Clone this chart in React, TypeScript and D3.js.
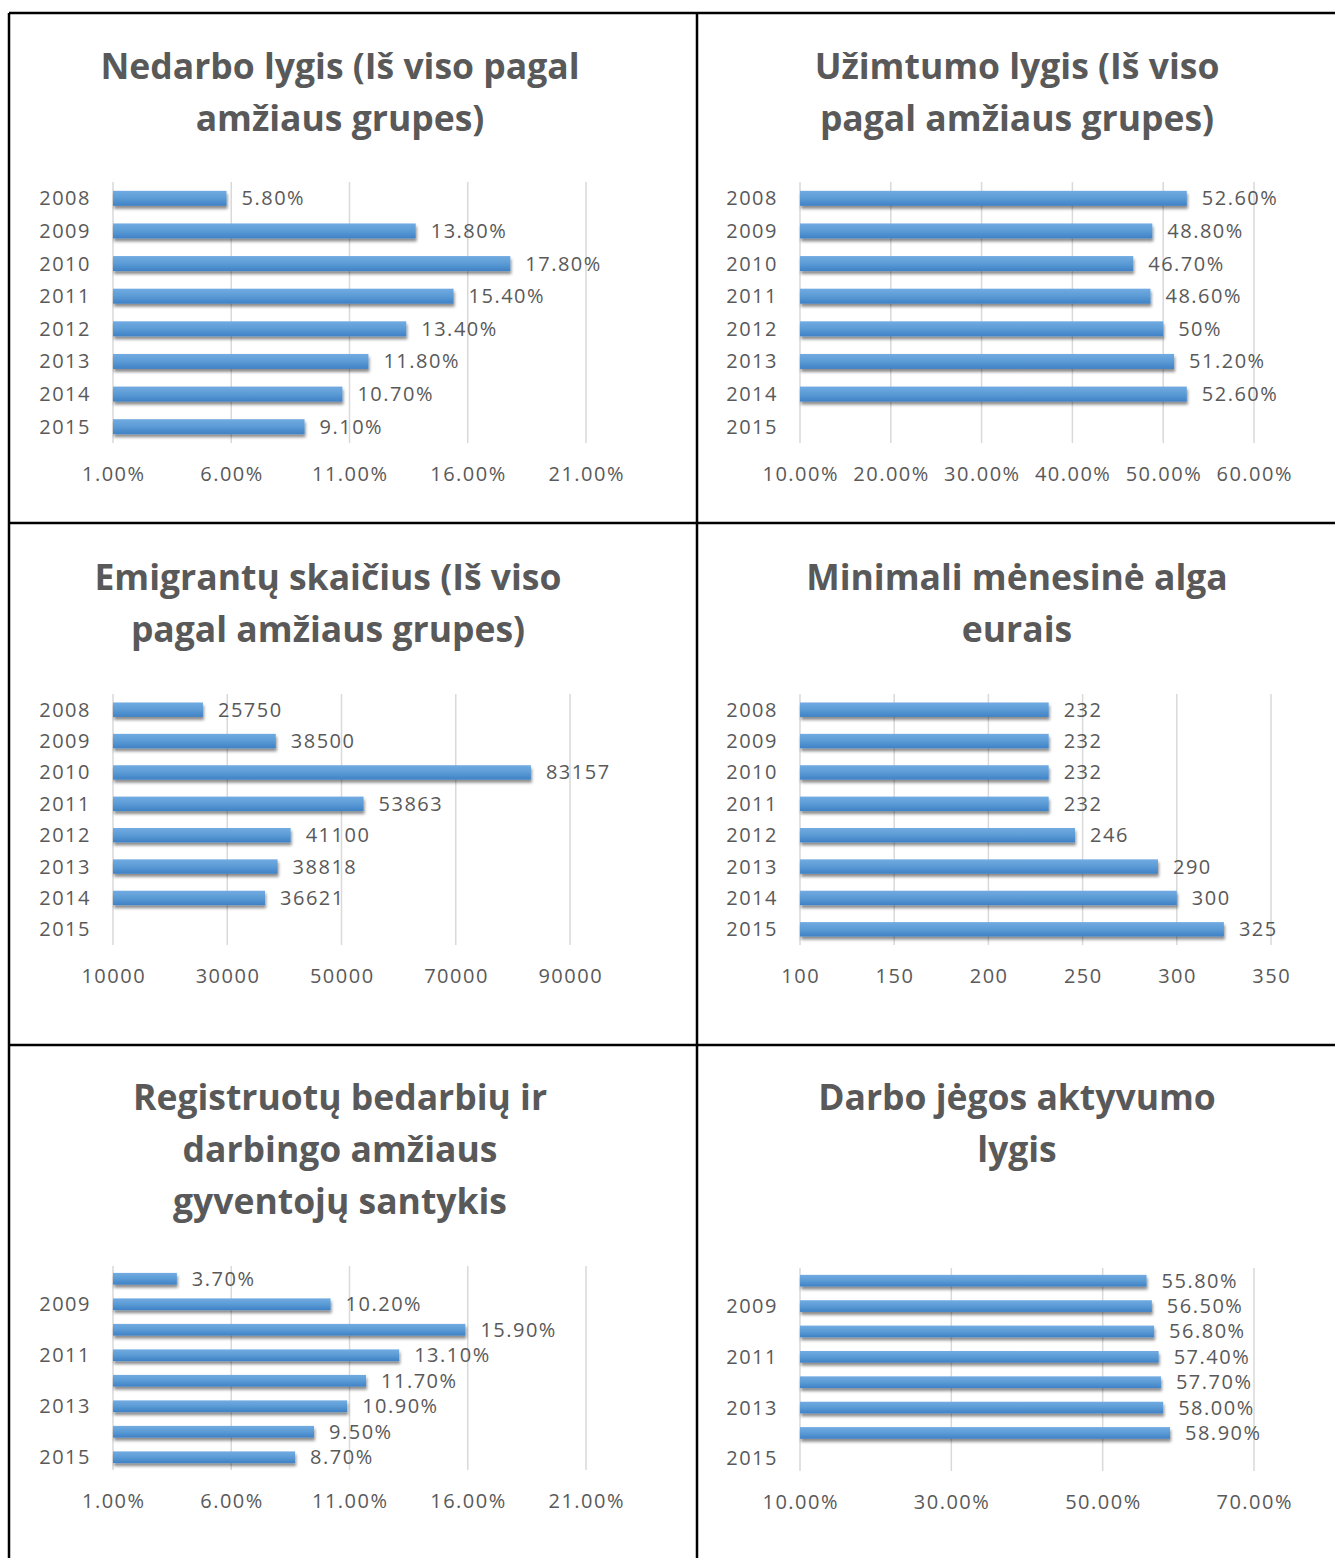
import React from 'react';
import * as d3 from 'd3';

const years = ['2008', '2009', '2010', '2011', '2012', '2013', '2014', '2015'];
const oddYears = ['2009', '2011', '2013', '2015'];

const unemployment = [5.8, 13.8, 17.8, 15.4, 13.4, 11.8, 10.7, 9.1];
const employment = [52.6, 48.8, 46.7, 48.6, 50, 51.2, 52.6, null];
const emigrants = [25750, 38500, 83157, 53863, 41100, 38818, 36621, null];
const minWage = [232, 232, 232, 232, 246, 290, 300, 325];
const registeredRatio = [3.7, 10.2, 15.9, 13.1, 11.7, 10.9, 9.5, 8.7];
const activityRate = [55.8, 56.5, 56.8, 57.4, 57.7, 58.0, 58.9, null];

const pctTicksA = [1, 6, 11, 16, 21];
const pctTicksB = [10, 20, 30, 40, 50, 60];
const emigrantTicks = [10000, 30000, 50000, 70000, 90000];
const wageTicks = [100, 150, 200, 250, 300, 350];
const pctTicksC = [10, 30, 50, 70];

const pct2 = (v: number) => v.toFixed(2) + '%';
const pctTrim = (v: number) => (Number.isInteger(v) ? v + '%' : v.toFixed(2) + '%');
const plain = (v: number) => String(v);

const TEXT = '#595959';
const FONT = '"Open Sans", "Noto Sans", sans-serif';
const SMALL = 20;
const SPACING = 1.5;

type PanelProps = {
  title: string[];
  titleX: number;
  titleY: number;
  values: (number | null)[];
  shown: string[];
  ticks: number[];
  tickFmt: (v: number) => string;
  valFmt: (v: number) => string;
  xRange: [number, number];
  yRange: [number, number];
};

function Panel({ title, titleX, titleY, values, shown, ticks, tickFmt, valFmt, xRange, yRange }: PanelProps) {
  const x = d3.scaleLinear().domain([ticks[0], ticks[ticks.length - 1]]).range(xRange);
  const y = d3.scalePoint().domain(years).range(yRange).padding(0.5);
  const bh = y.step() * 0.46;

  return (
    <g>
      {title.map((t, i) => (
        <text key={i} x={titleX} y={titleY + i * 52} textAnchor="middle" fontFamily={FONT}
          fontWeight={700} fontSize={35.5} fill={TEXT}>{t}</text>
      ))}
      {ticks.map(t => (
        <line key={t} x1={x(t)} x2={x(t)} y1={yRange[0]} y2={yRange[1]} stroke="#d9d9d9" strokeWidth={1.5} />
      ))}
      {ticks.map(t => (
        <text key={'t' + t} x={x(t) + SPACING / 2} y={yRange[1] + 31} dy="0.35em" textAnchor="middle"
          fontFamily={FONT} fontSize={SMALL} letterSpacing={SPACING} fill={TEXT}>{tickFmt(t)}</text>
      ))}
      {years.map((c, i) => {
        const v = values[i];
        const cy = y(c)!;
        return (
          <g key={c}>
            {shown.includes(c) && (
              <text x={xRange[0] - 22} y={cy} dy="0.35em" textAnchor="end" fontFamily={FONT}
                fontSize={SMALL} letterSpacing={SPACING} fill={TEXT}>{c}</text>
            )}
            {v != null && (
              <>
                <rect x={x(ticks[0])} y={cy - bh / 2} width={x(v) - x(ticks[0])} height={bh}
                  fill="url(#barGrad)" filter="url(#barShadow)" />
                <text x={x(v) + 15} y={cy} dy="0.35em" fontFamily={FONT} fontSize={SMALL}
                  letterSpacing={SPACING} fill={TEXT}>{valFmt(v)}</text>
              </>
            )}
          </g>
        );
      })}
    </g>
  );
}

export default function App() {
  const W = 1335;
  const H = 1558;
  return (
    <div style={{ position: 'absolute', left: 0, top: 0 }}>
      <svg width={W} height={H} style={{ display: 'block', background: '#fff' }}>
        <defs>
          <linearGradient id="barGrad" x1="0" y1="0" x2="0" y2="1">
            <stop offset="0%" stopColor="#72abe2" />
            <stop offset="50%" stopColor="#5b9bd5" />
            <stop offset="100%" stopColor="#3f81c6" />
          </linearGradient>
          <filter id="barShadow" x="-5%" y="-40%" width="115%" height="200%">
            <feDropShadow dx="1" dy="3" stdDeviation="1.6" floodColor="#000" floodOpacity="0.45" />
          </filter>
        </defs>

        <Panel title={['Nedarbo lygis (Iš viso pagal', 'amžiaus grupes)']} titleX={340} titleY={79}
          values={unemployment} shown={years} ticks={pctTicksA} tickFmt={pct2} valFmt={pct2}
          xRange={[113, 586]} yRange={[182, 443]} />
        <Panel title={['Užimtumo lygis (Iš viso', 'pagal amžiaus grupes)']} titleX={1017} titleY={79}
          values={employment} shown={years} ticks={pctTicksB} tickFmt={pct2} valFmt={pctTrim}
          xRange={[800, 1254]} yRange={[182, 443]} />
        <Panel title={['Emigrantų skaičius (Iš viso', 'pagal amžiaus grupes)']} titleX={328} titleY={590}
          values={emigrants} shown={years} ticks={emigrantTicks} tickFmt={plain} valFmt={plain}
          xRange={[113, 570]} yRange={[694, 945]} />
        <Panel title={['Minimali mėnesinė alga', 'eurais']} titleX={1017} titleY={590}
          values={minWage} shown={years} ticks={wageTicks} tickFmt={plain} valFmt={plain}
          xRange={[800, 1271]} yRange={[694, 945]} />
        <Panel title={['Registruotų bedarbių ir', 'darbingo amžiaus', 'gyventojų santykis']} titleX={340} titleY={1110}
          values={registeredRatio} shown={oddYears} ticks={pctTicksA} tickFmt={pct2} valFmt={pct2}
          xRange={[113, 586]} yRange={[1266, 1470]} />
        <Panel title={['Darbo jėgos aktyvumo', 'lygis']} titleX={1017} titleY={1110}
          values={activityRate} shown={oddYears} ticks={pctTicksC} tickFmt={pct2} valFmt={pct2}
          xRange={[800, 1254]} yRange={[1268, 1471]} />

        <g stroke="#000" strokeWidth={2.5}>
          <line x1={9} x2={W} y1={13} y2={13} />
          <line x1={9} x2={W} y1={523} y2={523} />
          <line x1={9} x2={W} y1={1045} y2={1045} />
          <line x1={9} x2={9} y1={13} y2={H} />
          <line x1={697} x2={697} y1={13} y2={H} />
        </g>
      </svg>
    </div>
  );
}
